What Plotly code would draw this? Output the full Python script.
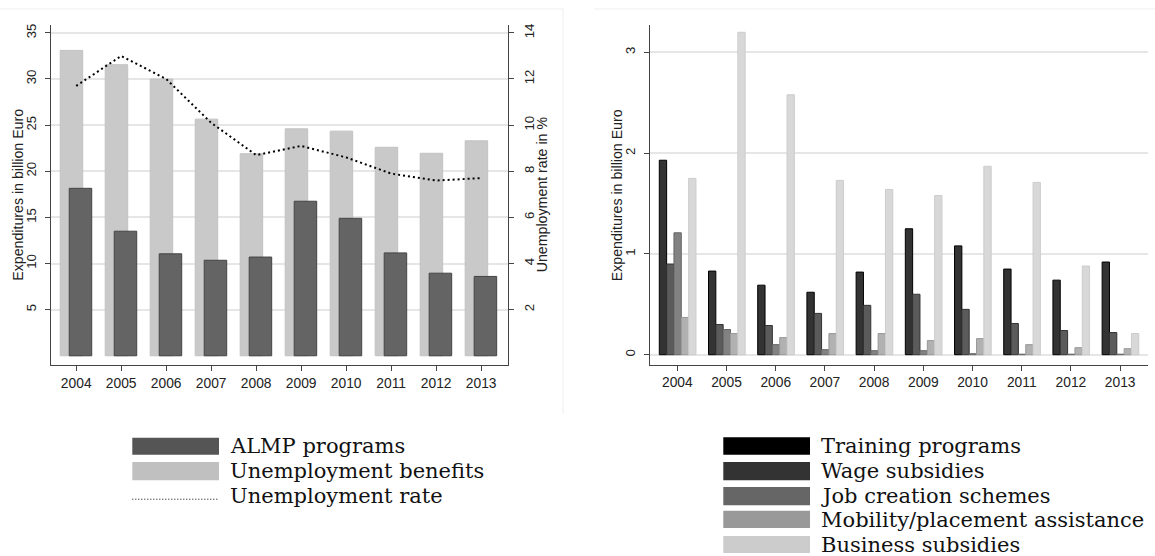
import plotly.graph_objects as go

# ---- data ---------------------------------------------------------------
years = [2004, 2005, 2006, 2007, 2008, 2009, 2010, 2011, 2012, 2013]

# left panel: billion Euro / percent
almp_programs = [18.15, 13.5, 11.05, 10.35, 10.7, 16.75, 14.9, 11.15, 8.95, 8.6]
unemployment_benefits = [33.1, 31.55, 30.0, 25.65, 21.9, 24.6, 24.35, 22.6, 21.95, 23.3]
unemployment_rate = [11.7, 13.0, 12.0, 10.1, 8.7, 9.1, 8.6, 7.9, 7.6, 7.7]

# right panel: billion Euro by ALMP program type
training_programs = [1.93, 0.83, 0.69, 0.62, 0.82, 1.25, 1.08, 0.85, 0.74, 0.92]
wage_subsidies = [0.90, 0.30, 0.29, 0.41, 0.49, 0.60, 0.45, 0.31, 0.24, 0.22]
job_creation = [1.21, 0.25, 0.10, 0.05, 0.04, 0.04, 0.01, 0.005, 0.005, 0.005]
mobility_placement = [0.37, 0.21, 0.17, 0.21, 0.21, 0.14, 0.16, 0.10, 0.07, 0.06]
business_subsidies = [1.75, 3.20, 2.58, 1.73, 1.64, 1.58, 1.87, 1.71, 0.88, 0.21]

left_names = ["ALMP programs", "Unemployment benefits", "Unemployment rate"]
right_names = ["Training programs", "Wage subsidies", "Job creation schemes",
               "Mobility/placement assistance", "Business subsidies"]
left_ticks = [5, 10, 15, 20, 25, 30, 35]
rate_ticks = [2, 4, 6, 8, 10, 12, 14]
right_ticks = [0, 1, 2, 3]

# ---- helpers ------------------------------------------------------------
W, H = 1155, 556
def px(x):
    return x / W
def py(y):
    return 1 - y / H

SANS = "Liberation Sans, Arial, sans-serif"
SERIF = "DejaVu Serif, serif"
AXIS_COL = "#444444"
GRID_COL = "#e6e6e6"

fig = go.Figure()

# ---- left panel ---------------------------------------------------------
fig.add_trace(go.Bar(
    x=years, y=unemployment_benefits, name=left_names[1],
    width=0.5, offset=-0.355,
    marker=dict(color="#c9c9c9", line=dict(color="#c2c2c2", width=1)),
    xaxis="x", yaxis="y", showlegend=False))
fig.add_trace(go.Bar(
    x=years, y=almp_programs, name=left_names[0],
    width=0.5, offset=-0.155,
    marker=dict(color="#646464", line=dict(color="#444444", width=1)),
    xaxis="x", yaxis="y", showlegend=False))
fig.add_trace(go.Scatter(
    x=years, y=unemployment_rate, name=left_names[2], mode="lines",
    line=dict(color="#000000", width=2, dash="2px,3px"),
    xaxis="x", yaxis="y2", showlegend=False))

# ---- right panel --------------------------------------------------------
right_series = [training_programs, wage_subsidies, job_creation,
                mobility_placement, business_subsidies]
right_fill = ["#333333", "#5b5b5b", "#828282", "#b1b1b1", "#d8d8d8"]
right_edge = ["#000000", "#333333", "#666666", "#999999", "#cccccc"]
bw = 0.149
for i, (vals, name) in enumerate(zip(right_series, right_names)):
    fig.add_trace(go.Bar(
        x=years, y=vals, name=name, width=bw, offset=-0.366 + i * bw,
        marker=dict(color=right_fill[i], line=dict(color=right_edge[i], width=1)),
        xaxis="x2", yaxis="y3", showlegend=False))

# ---- axes ---------------------------------------------------------------
tick_font = dict(family=SANS, size=13.8, color="#222222")
ytick_font = dict(family=SANS, size=13.2, color="#222222")

x_common = dict(tickmode="array", tickvals=years, ticktext=[str(y) for y in years],
                showline=True, linecolor=AXIS_COL, linewidth=1.3,
                ticks="outside", ticklen=5, tickcolor=AXIS_COL, tickwidth=1,
                showgrid=False, zeroline=False, tickfont=tick_font)
y_common = dict(tickmode="array", tickangle=-90,
                showline=True, linecolor=AXIS_COL, linewidth=1.3,
                ticks="outside", ticklen=5, tickcolor=AXIS_COL, tickwidth=1,
                zeroline=False, tickfont=ytick_font, ticklabelstandoff=4)

top_px, bot_px = 23.3, 364.3
fig.update_layout(
    width=W, height=H, margin=dict(l=0, r=0, t=0, b=0),
    paper_bgcolor="white", plot_bgcolor="white",
    barmode="overlay", showlegend=False,
    xaxis=dict(domain=[px(51), px(507.7)], range=[2003.44, 2013.59],
               anchor="y", **x_common),
    yaxis=dict(domain=[py(bot_px), py(top_px)], range=[-1.0, 35.83],
               tickvals=left_ticks, showgrid=True, gridcolor=GRID_COL, gridwidth=1.5,
               anchor="x", **y_common),
    yaxis2=dict(overlaying="y", side="right", anchor="x",
                range=[-1.0 / 2.5, 35.83 / 2.5],
                tickvals=rate_ticks, showgrid=False, **y_common),
    xaxis2=dict(domain=[px(650), px(1147.7)], range=[2003.445, 2013.56],
                anchor="y3", **x_common),
    yaxis3=dict(domain=[py(364), py(top_px)], range=[-0.099, 3.27],
                tickvals=right_ticks, showgrid=True, gridcolor=GRID_COL, gridwidth=1.5,
                anchor="x2", **y_common),
)

# ---- axis titles --------------------------------------------------------
title_font = dict(family=SANS, size=14.2, color="#222222")
annotations = [
    dict(text="Expenditures in billion Euro", x=px(18.5), y=py(194), textangle=-90),
    dict(text="Unemployment rate in %", x=px(541.5), y=py(193.5), textangle=-90),
    dict(text="Expenditures in billion Euro", x=px(617), y=py(194), textangle=-90),
]
for a in annotations:
    a.update(xref="paper", yref="paper", showarrow=False, font=title_font,
             xanchor="center", yanchor="middle")

# ---- hand-built legends (wide swatches, serif labels) ---------------------
shapes = []
leg_font = dict(family=SERIF, size=21, color="#111111")

left_swatches = [("#555555", 437.3, 454.3), ("#c0c0c0", 461.7, 480.0)]
for col, y0, y1 in left_swatches:
    shapes.append(dict(type="rect", xref="paper", yref="paper",
                       x0=px(132.3), x1=px(219), y0=py(y1), y1=py(y0),
                       fillcolor=col, line=dict(width=0)))
shapes.append(dict(type="line", xref="paper", yref="paper",
                   x0=px(132.3), x1=px(219), y0=py(499), y1=py(499),
                   line=dict(color="#000000", width=1, dash="1px,2px")))
for name, yc in zip(left_names, [446.0, 470.8, 495.6]):
    annotations.append(dict(text=name, x=px(227.5), y=py(yc), xref="paper", yref="paper",
                            showarrow=False, xanchor="left", yanchor="middle",
                            font=leg_font))

right_legend_cols = ["#000000", "#333333", "#666666", "#999999", "#cccccc"]
right_rows = [(436.7, 454.3), (461.7, 480.0), (486.7, 505.0), (510.7, 528.0), (536.0, 553.0)]
for name, col, (y0, y1) in zip(right_names, right_legend_cols, right_rows):
    shapes.append(dict(type="rect", xref="paper", yref="paper",
                       x0=px(723.3), x1=px(810), y0=py(y1), y1=py(y0),
                       fillcolor=col, line=dict(width=0)))
    annotations.append(dict(text=name, x=px(818.5), y=py((y0 + y1) / 2 + 0.3),
                            xref="paper", yref="paper", showarrow=False,
                            xanchor="left", yanchor="middle", font=leg_font))

# faint outer frame lines of the two graph regions
frame = dict(color="#eeeeee", width=1)
shapes += [
    dict(type="line", xref="paper", yref="paper", x0=0, x1=px(563), y0=py(7), y1=py(7), line=frame),
    dict(type="line", xref="paper", yref="paper", x0=px(563), x1=px(563), y0=py(7), y1=py(413), line=frame),
    dict(type="line", xref="paper", yref="paper", x0=px(594), x1=1, y0=py(7), y1=py(7), line=frame),
]

fig.update_layout(annotations=annotations, shapes=shapes)

fig.write_html("out.html")
